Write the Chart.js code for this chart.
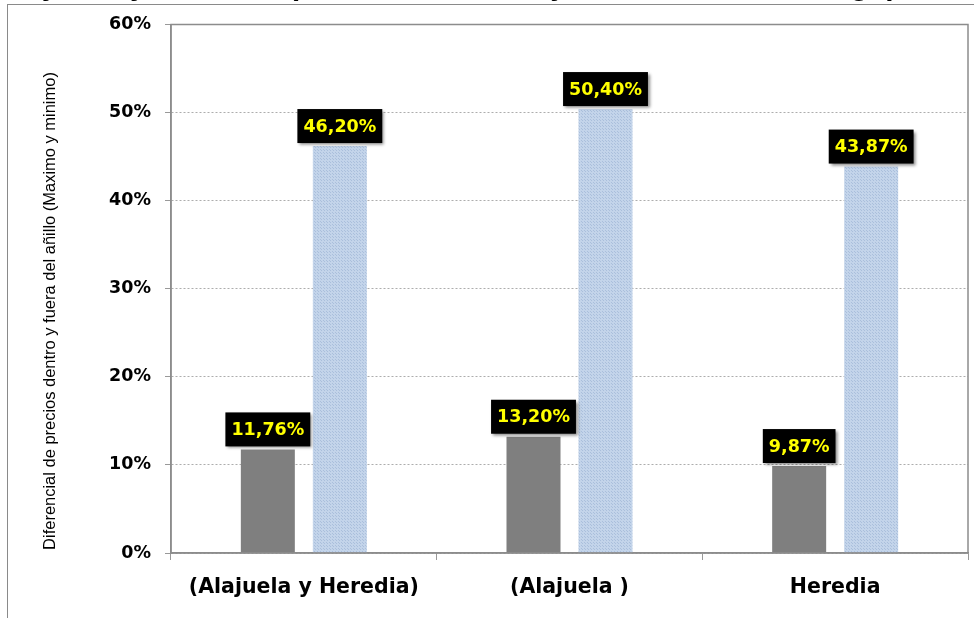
<!DOCTYPE html>
<html>
<head>
<meta charset="utf-8">
<script src="https://cdn.jsdelivr.net/npm/chart.js@4"></script>
<style>
  body { margin: 0; background: #fff; overflow: hidden; }
  #wrap { position: relative; width: 974px; height: 618px; }
  #frame { position: absolute; left: 7px; top: 4px; width: 990px; height: 640px; border: 1.5px solid #8a8a8a; box-sizing: border-box; }
  #title { position: absolute; z-index: 2; left: 0px; top: -32px; font: bold 30px Arial, "Liberation Sans", sans-serif; line-height: 34px; color: #000; white-space: nowrap; }
  canvas { position: absolute; left: 0; top: 0; }
</style>
</head>
<body>
<div id="wrap">
  <div id="frame"></div>
  <canvas id="chart" width="974" height="618"></canvas>
  <div id="title">Mayores y menores (diferencia dentro y fuera del anillo, rango)</div>
</div>
<script>
// Chart data
const categories = ["(Alajuela y Heredia)", "(Alajuela )", "Heredia"];
const minValues = [11.76, 13.20, 9.87];
const maxValues = [46.20, 50.40, 43.87];
const yTicks = [0, 10, 20, 30, 40, 50, 60];
const yTitle = "Diferencial de precios dentro y fuera del añillo (Maximo y minimo)";

const boldFont = "'DejaVu Sans', Verdana, sans-serif";

// dotted light blue fill like the original
function bluePattern() {
  const c = document.createElement("canvas");
  c.width = 3;
  c.height = 3;
  const g = c.getContext("2d");
  g.fillStyle = "#c3d4ea";
  g.fillRect(0, 0, 3, 3);
  g.fillStyle = "#aabfdc";
  g.fillRect(0, 0, 1, 1);
  g.fillRect(2, 2, 1, 1);
  return g.createPattern(c, "repeat");
}

const boxLabels = {
  id: "boxLabels",
  afterDatasetsDraw(chart) {
    const ctx = chart.ctx;
    ctx.save();
    ctx.font = "bold 17.5px " + boldFont;
    ctx.textAlign = "center";
    ctx.textBaseline = "middle";
    chart.data.datasets.forEach((ds, i) => {
      chart.getDatasetMeta(i).data.forEach((bar, j) => {
        const text = ds.data[j].toFixed(2).replace(".", ",") + "%";
        const w = ctx.measureText(text).width + 12;
        const h = 34;
        const x = bar.x - w / 2;
        const y = bar.y - 3 - h;
        ctx.shadowColor = "rgba(0,0,0,0.45)";
        ctx.shadowBlur = 3;
        ctx.shadowOffsetX = 2;
        ctx.shadowOffsetY = 2;
        ctx.fillStyle = "#000";
        ctx.fillRect(x, y, w, h);
        ctx.shadowColor = "transparent";
        ctx.fillStyle = "#ffff00";
        ctx.fillText(text, bar.x, y + h / 2 + 1);
      });
    });
    ctx.restore();
  },
  afterDraw(chart) {
    const ctx = chart.ctx;
    const a = chart.chartArea;
    ctx.save();
    // plot area outline
    ctx.setLineDash([]);
    ctx.strokeStyle = "#8c8c8c";
    ctx.lineWidth = 1.5;
    ctx.strokeRect(a.left, a.top, a.right - a.left, a.bottom - a.top);
    // rotated axis title
    ctx.translate(50, 311);
    ctx.rotate(-Math.PI / 2);
    ctx.font = "14px Arial, 'Liberation Sans', sans-serif";
    const size = 14 * 478 / ctx.measureText(yTitle).width;
    ctx.font = size.toFixed(2) + "px Arial, 'Liberation Sans', sans-serif";
    ctx.fillStyle = "#000";
    ctx.textAlign = "center";
    ctx.textBaseline = "middle";
    ctx.fillText(yTitle, 0, 0);
    ctx.restore();
  }
};

new Chart(document.getElementById("chart"), {
  type: "bar",
  data: {
    labels: categories,
    datasets: [
      {
        label: "Minimo",
        data: minValues,
        backgroundColor: "#7f7f7f",
        barPercentage: 0.75,
        categoryPercentage: 0.542
      },
      {
        label: "Maximo",
        data: maxValues,
        backgroundColor: bluePattern(),
        barPercentage: 0.75,
        categoryPercentage: 0.542
      }
    ]
  },
  options: {
    responsive: false,
    animation: false,
    layout: { padding: { left: 71, right: 6, top: 22, bottom: 0 } },
    plugins: {
      legend: { display: false },
      tooltip: { enabled: false }
    },
    scales: {
      x: {
        afterFit: s => { s.height = 65; },
        grid: {
          offset: true,
          drawOnChartArea: false,
          tickLength: 7,
          color: "#999"
        },
        border: { color: "#8c8c8c", width: 1.5 },
        ticks: {
          padding: 15,
          color: "#000",
          font: { family: boldFont, size: 20.5, weight: "bold" }
        }
      },
      y: {
        min: 0,
        max: 60,
        afterFit: s => { s.width = 100; },
        afterBuildTicks: s => { s.ticks = yTicks.map(v => ({ value: v })); },
        grid: {
          color: "#adadad",
          tickLength: 6,
          tickColor: "#999",
          tickBorderDash: []
        },
        border: { color: "#8c8c8c", width: 1.5, dash: [2, 2] },
        ticks: {
          padding: 14,
          color: "#000",
          font: { family: boldFont, size: 17.5, weight: "bold" },
          callback: v => v + "%"
        }
      }
    }
  },
  plugins: [boxLabels]
});
</script>
</body>
</html>
